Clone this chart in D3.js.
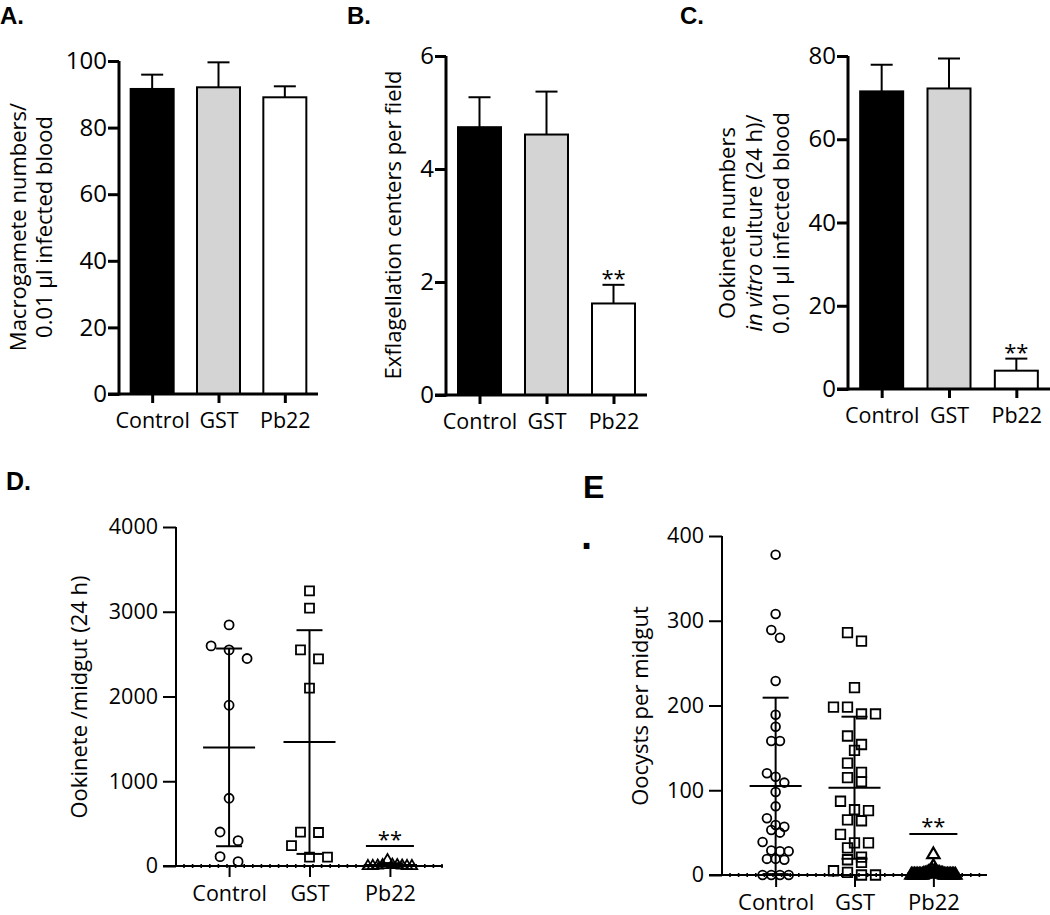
<!DOCTYPE html>
<html><head><meta charset="utf-8">
<script src="https://cdn.jsdelivr.net/npm/d3@7"></script>
<style>
body{margin:0;background:#fff}
svg{display:block}
text{font-family:"Open Sans",sans-serif;fill:#000}
.plab{font-family:"Liberation Sans",Arial,sans-serif;font-weight:bold}
</style>
</head><body><svg id="chart" width="1050" height="915"></svg>
<script>
// ---------------- DATA ----------------
const categories = ["Control", "GST", "Pb22"];

// Panel A: Macrogamete numbers / 0.01 µl infected blood (mean, SEM)
const macrogameteMean = [91.6, 92.1, 89.1];
const macrogameteErr  = [4.3, 7.5, 3.3];
const macrogameteSig  = ["", "", ""];
const macrogameteTicks = [0, 20, 40, 60, 80, 100];

// Panel B: Exflagellation centers per field
const exflagMean = [4.74, 4.61, 1.62];
const exflagErr  = [0.53, 0.76, 0.33];
const exflagSig  = ["", "", "**"];
const exflagTicks = [0, 2, 4, 6];

// Panel C: Ookinete numbers in vitro culture (24 h)
const vitroMean = [71.5, 72.2, 4.4];
const vitroErr  = [6.4, 7.2, 2.9];
const vitroSig  = ["", "", "**"];
const vitroTicks = [0, 20, 40, 60, 80];

// Panel D: Ookinete / midgut (24 h)
const midgutControl = [2845, 2597, 2550, 2448, 1897, 799, 401, 299, 110, 51];
const midgutGST     = [3247, 3042, 2550, 2444, 2098, 400, 395, 240, 105, 105];
const midgutPb22    = [70, 15, 10, 10, 5, 5, 0, 0, 0, 0];
const midgutSig     = ["", "", "**"];
const midgutTicks   = [0, 1000, 2000, 3000, 4000];

// Panel E: Oocysts per midgut
const oocystControl = [378, 308, 289, 280, 229, 189, 175, 158, 158, 120, 116, 109, 98, 81, 67,
                       59, 57, 53, 50, 39, 29, 28, 28, 19, 19, 18, 0, 0, 0, 0];
const oocystGST     = [286, 276, 221, 198, 198, 190, 190, 164, 154, 147, 132, 121, 115, 110, 87,
                       77, 76, 65, 64, 48, 38, 38, 32, 21, 18, 15, 5, 3, 0, 0];
const oocystPb22    = [24, 10, 6, 5, 4, 3, 3, 2, 2, 2, 1, 1, 1, 1,
                       0, 0, 0, 0, 0, 0, 0, 0, 0, 0, 0, 0, 0, 0, 0, 0];
const oocystSig     = ["", "", "**"];
const oocystTicks   = [0, 100, 200, 300, 400];

const barFills = ["#000000", "#d4d4d4", "#ffffff"];

// ---------------- DRAW ----------------
const svg = d3.select("#chart");
const fmt = d3.format("d");

function styleAxis(g, sw, fs) {
  g.attr("font-family", null).attr("font-size", null);
  g.selectAll("line").attr("stroke", "#000").attr("stroke-width", sw);
  g.selectAll("path.domain").remove();
  g.selectAll("text").style("font-size", fs + "px").attr("fill", "#000");
}

function barPanel(o) {
  const g = svg.append("g");
  const y = d3.scaleLinear().domain([0, o.max]).range([o.y0, o.yTop]);
  const x = d3.scalePoint().domain(categories).range([o.xAxis, o.xEnd]).padding(0.5);
  const rows = categories.map((c, i) => ({c, m: o.mean[i], e: o.err[i], fill: barFills[i], sig: o.sig[i]}));

  g.selectAll(".eb").data(rows).join("line")
    .attr("x1", d => x(d.c)).attr("x2", d => x(d.c))
    .attr("y1", d => y(d.m)).attr("y2", d => y(d.m + d.e))
    .attr("stroke", "#000").attr("stroke-width", 2);
  g.selectAll(".cap").data(rows).join("line")
    .attr("x1", d => x(d.c) - 11).attr("x2", d => x(d.c) + 11)
    .attr("y1", d => y(d.m + d.e)).attr("y2", d => y(d.m + d.e))
    .attr("stroke", "#000").attr("stroke-width", 2);
  g.selectAll(".bar").data(rows).join("rect")
    .attr("x", d => x(d.c) - o.bw / 2).attr("width", o.bw)
    .attr("y", d => y(d.m)).attr("height", d => o.y0 - y(d.m))
    .attr("fill", d => d.fill).attr("stroke", "#000").attr("stroke-width", 2);
  g.selectAll(".sig").data(rows.filter(d => d.sig)).join("text")
    .attr("x", d => x(d.c)).attr("y", d => y(d.m + d.e) + 1)
    .attr("text-anchor", "middle").style("font-size", "22px").attr("fill", "#333")
    .text(d => d.sig);

  const ya = g.append("g").attr("transform", `translate(${o.xAxis},0)`)
    .call(d3.axisLeft(y).tickValues(o.ticks).tickFormat(fmt).tickSize(11).tickPadding(1).tickSizeOuter(0));
  styleAxis(ya, 3, 24);
  g.append("line").attr("x1", o.xAxis).attr("x2", o.xAxis).attr("y1", o.y0 + 1.5).attr("y2", o.yTop)
    .attr("stroke", "#000").attr("stroke-width", 3);
  const xa = g.append("g").attr("transform", `translate(0,${o.y0})`)
    .call(d3.axisBottom(x).tickSize(9).tickPadding(10).tickSizeOuter(0));
  styleAxis(xa, 3, 21.5);
  g.append("line").attr("x1", o.xAxis - 11).attr("x2", o.xEnd).attr("y1", o.y0).attr("y2", o.y0)
    .attr("stroke", "#000").attr("stroke-width", 3);

  const t = g.append("text").attr("transform", `translate(${o.titleX},${o.titleY}) rotate(-90)`)
    .attr("text-anchor", "middle").style("font-size", "22px");
  o.title.forEach((line, i) => {
    const ts = t.append("tspan").attr("x", 0).attr("dy", i === 0 ? 0 : o.lineH);
    line.forEach(part => ts.append("tspan").style("font-style", part.it ? "italic" : "normal").text(part.s));
  });
}

function swarm(vals, y, thr, spacing, maxHalf) {
  const pts = vals.map(v => ({v, py: y(v)})).sort((a, b) => b.v - a.v);
  const rows = [];
  pts.forEach(p => {
    const r = rows[rows.length - 1];
    if (r && p.py - r[0].py < thr) r.push(p); else rows.push([p]);
  });
  rows.forEach(r => {
    const n = r.length;
    const s = n > 1 ? Math.min(spacing, 2 * maxHalf / (n - 1)) : 0;
    const slots = d3.range(n).map(k => (k - (n - 1) / 2) * s);
    const order = n <= 4 ? slots : slots.slice().sort((a, b) => Math.abs(a) - Math.abs(b) || a - b);
    r.forEach((p, k) => p.dx = order[k]);
  });
  return pts;
}

function scatterPanel(o) {
  const g = svg.append("g");
  const y = d3.scaleLinear().domain([0, o.max]).range([o.y0, o.yTop]);
  const x = d3.scalePoint().domain(categories).range([o.xAxis, o.xEnd]).padding(o.pad);

  const ya = g.append("g").attr("transform", `translate(${o.xAxis},0)`)
    .call(d3.axisLeft(y).tickValues(o.ticks).tickFormat(fmt).tickSize(13).tickPadding(5).tickSizeOuter(0));
  styleAxis(ya, 2, o.tickFs);
  g.append("line").attr("x1", o.xAxis).attr("x2", o.xAxis).attr("y1", o.y0).attr("y2", o.yTop)
    .attr("stroke", "#000").attr("stroke-width", 2);
  const xa = g.append("g").attr("transform", `translate(0,${o.y0})`)
    .call(d3.axisBottom(x).tickSize(o.catTick).tickPadding(o.catPad).tickSizeOuter(0));
  styleAxis(xa, 2, o.catFs);
  g.append("line").attr("x1", o.xAxis - 13).attr("x2", o.xEnd).attr("y1", o.y0).attr("y2", o.y0)
    .attr("stroke", "#000").attr("stroke-width", 2);
  const dots = d3.range(o.xAxis + 8, o.xEnd, 8.6);
  g.selectAll(".dot").data(dots).join("line")
    .attr("x1", d => d).attr("x2", d => d).attr("y1", o.y0 - 2).attr("y2", o.y0 + 2)
    .attr("stroke", "#000").attr("stroke-width", 1.6);

  const shapes = [d3.symbolCircle, d3.symbolSquare, d3.symbolTriangle];
  o.groups.forEach((vals, i) => {
    const c = categories[i], cx = x(c);
    const pts = swarm(vals, y, o.thr, o.spacing[i], o.maxHalf);
    const sym = d3.symbol().type(shapes[i]).size(o.sizes[i]);
    g.append("g").selectAll("path").data(pts).join("path")
      .attr("d", sym)
      .attr("transform", d => `translate(${cx + d.dx},${d.py})`)
      .attr("fill", "none").attr("stroke", "#000").attr("stroke-width", o.sw[i]);
    const m = d3.mean(vals), sd = d3.deviation(vals);
    const lo = Math.max(0, m - sd), hi = m + sd;
    const sg = g.append("g").attr("stroke", "#000").attr("stroke-width", 2);
    sg.append("line").attr("x1", cx).attr("x2", cx).attr("y1", y(lo)).attr("y2", y(hi));
    sg.append("line").attr("x1", cx - 26).attr("x2", cx + 26).attr("y1", y(m)).attr("y2", y(m));
    if (m - sd > 0) sg.append("line").attr("x1", cx - 13).attr("x2", cx + 13).attr("y1", y(lo)).attr("y2", y(lo));
    sg.append("line").attr("x1", cx - 13).attr("x2", cx + 13).attr("y1", y(hi)).attr("y2", y(hi));
    if (o.sig[i]) {
      g.append("line").attr("x1", cx - 24).attr("x2", cx + 24).attr("y1", o.sigLineY).attr("y2", o.sigLineY)
        .attr("stroke", "#000").attr("stroke-width", 2);
      g.append("text").attr("x", cx).attr("y", o.sigLineY + o.sigDy).attr("text-anchor", "middle")
        .style("font-size", "22px").attr("fill", "#333").text(o.sig[i]);
    }
  });

  g.append("text").attr("transform", `translate(${o.titleX},${o.titleY}) rotate(-90)`)
    .attr("text-anchor", "middle").style("font-size", "22px").text(o.title);
}

barPanel({mean: macrogameteMean, err: macrogameteErr, sig: macrogameteSig, ticks: macrogameteTicks, max: 100,
  y0: 394, yTop: 61, xAxis: 119, xEnd: 318, bw: 43,
  title: [[{s: "Macrogamete numbers/"}], [{s: "0.01 µl infected blood"}]], titleX: 26, titleY: 227, lineH: 26});
barPanel({mean: exflagMean, err: exflagErr, sig: exflagSig, ticks: exflagTicks, max: 6,
  y0: 395, yTop: 56, xAxis: 446, xEnd: 647, bw: 43,
  title: [[{s: "Exflagellation centers per field"}]], titleX: 401, titleY: 225, lineH: 26});
barPanel({mean: vitroMean, err: vitroErr, sig: vitroSig, ticks: vitroTicks, max: 80,
  y0: 389, yTop: 56, xAxis: 848, xEnd: 1050, bw: 43,
  title: [[{s: "Ookinete numbers"}], [{s: "in vitro", it: true}, {s: " culture (24 h)/"}], [{s: "0.01 µl infected blood"}]],
  titleX: 735, titleY: 223, lineH: 27});

scatterPanel({groups: [midgutControl, midgutGST, midgutPb22], sig: midgutSig, ticks: midgutTicks, max: 4000,
  y0: 866, yTop: 527, xAxis: 176, xEnd: 443, pad: 0.66, tickFs: 21.5, catFs: 21.5, catTick: 11, catPad: 9,
  thr: 13, spacing: [18, 18, 18], maxHalf: 22, sizes: [64, 81, 48], sw: [1.8, 1.8, 1.8],
  sigLineY: 846, sigDy: 1,
  title: "Ookinete /midgut (24 h)", titleX: 87, titleY: 697});
scatterPanel({groups: [oocystControl, oocystGST, oocystPb22], sig: oocystSig, ticks: oocystTicks, max: 400,
  y0: 875, yTop: 536, xAxis: 722, xEnd: 987, pad: 0.68, tickFs: 21.5, catFs: 22, catTick: 12, catPad: 7,
  thr: 10, spacing: [8.7, 14, 8.7], maxHalf: 22, sizes: [60, 90, 66], sw: [1.8, 1.8, 2.2],
  sigLineY: 834, sigDy: 0,
  title: "Oocysts per midgut", titleX: 648, titleY: 706});

const letters = [
  {t: "A.", x: 0, y: 24, fs: 24},
  {t: "B.", x: 347, y: 24, fs: 24},
  {t: "C.", x: 680, y: 24, fs: 24},
  {t: "D.", x: 6, y: 490, fs: 25},
  {t: "E", x: 583, y: 498, fs: 32},
  {t: ".", x: 581, y: 549, fs: 40}
];
svg.selectAll(".plab").data(letters).join("text").attr("class", "plab")
  .attr("x", d => d.x).attr("y", d => d.y).style("font-size", d => d.fs + "px").text(d => d.t);
</script>
</body></html>
